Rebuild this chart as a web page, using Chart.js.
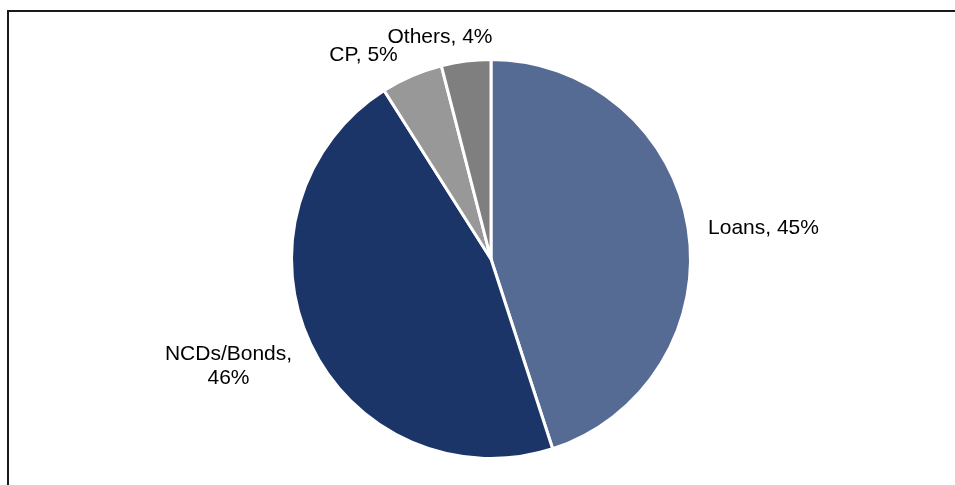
<!DOCTYPE html>
<html>
<head>
<meta charset="utf-8">
<script src="https://cdn.jsdelivr.net/npm/chart.js@4.4.0/dist/chart.umd.min.js"></script>
<style>
  html, body { margin: 0; padding: 0; background: #fff; overflow: hidden; }
  #wrap { position: relative; width: 955px; height: 485px; }
  #frame { position: absolute; left: 7px; top: 10px; width: 1000px; height: 600px; border: 2px solid #1a1a1a; box-sizing: border-box; }
  #myChart { position: absolute; left: 0; top: 0; }
</style>
</head>
<body>
<div id="wrap">
  <div id="frame"></div>
  <canvas id="myChart" width="955" height="485"></canvas>
</div>
<script>
const labels = ['Loans', 'NCDs/Bonds', 'CP', 'Others'];
const shares = [45, 46, 5, 4];
const colors = ['#566b94', '#1c3569', '#989898', '#7f7f7f'];

// label placement relative to the outer edge of each slice's mid-angle
const labelPlace = [
    { align: 'left', dx: 20, dy: 0 },
    { align: 'right', dx: -19, dy: 22 },
    { align: 'right', dx: -14, dy: -21 },
    { align: 'center', dx: -26, dy: -24 }
];

const sliceLabels = {
    id: 'sliceLabels',
    afterDatasetsDraw(chart) {
        const ctx = chart.ctx;
        const meta = chart.getDatasetMeta(0);
        ctx.save();
        ctx.font = '21px "Liberation Sans", Arial, sans-serif';
        ctx.fillStyle = '#000';
        ctx.textBaseline = 'middle';
        meta.data.forEach((arc, i) => {
            const p = arc.getProps(['x', 'y', 'startAngle', 'endAngle', 'outerRadius'], true);
            const mid = (p.startAngle + p.endAngle) / 2;
            const x = p.x + Math.cos(mid) * p.outerRadius + labelPlace[i].dx;
            const y = p.y + Math.sin(mid) * p.outerRadius + labelPlace[i].dy;
            ctx.textAlign = labelPlace[i].align;
            const text = labels[i] + ', ' + shares[i] + '%';
            if (labels[i] === 'NCDs/Bonds') {
                // two-line label, centred block left of the slice
                ctx.textAlign = 'center';
                ctx.fillText(labels[i] + ',', x - 63, y - 12);
                ctx.fillText(shares[i] + '%', x - 63, y + 12);
            } else {
                ctx.fillText(text, x, y);
            }
        });
        ctx.restore();
    }
};

const ctx = document.getElementById('myChart').getContext('2d');
const myChart = new Chart(ctx, {
    type: 'pie',
    data: {
        labels: labels,
        datasets: [{
            data: shares,
            backgroundColor: colors,
            borderColor: '#ffffff',
            borderWidth: 3
        }]
    },
    options: {
        responsive: false,
        animation: false,
        events: [],
        layout: { padding: { left: 290, right: 263, top: 58, bottom: 25 } },
        plugins: {
            legend: { display: false },
            tooltip: { enabled: false }
        }
    },
    plugins: [sliceLabels]
});
</script>
</body>
</html>
